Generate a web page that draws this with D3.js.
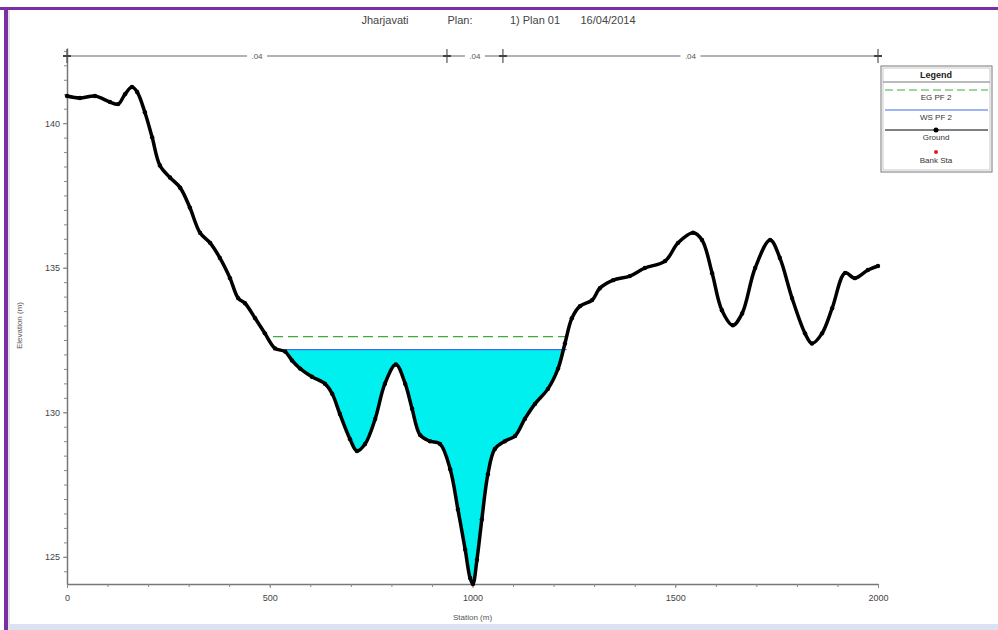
<!DOCTYPE html>
<html>
<head>
<meta charset="utf-8">
<script src="https://cdn.jsdelivr.net/npm/d3@7"></script>
<style>
  body { margin: 0; background: #fff; }
  svg { display: block; font-family: "Liberation Sans", Arial, sans-serif; }
</style>
</head>
<body>
<div id="chart"></div>
<script>
// Ground profile (station m, elevation m)
const stations = [0, 32, 69, 106, 126, 143, 160, 173, 192, 210, 229, 254, 279, 303, 328, 353, 377, 402, 422, 439, 464, 488, 513, 538, 555, 575, 604, 636, 654, 673, 698, 715, 735, 760, 784, 811, 834, 851, 871, 895, 920, 945, 964, 982, 994, 1001, 1011, 1023, 1038, 1055, 1080, 1105, 1129, 1154, 1186, 1211, 1228, 1245, 1265, 1295, 1314, 1347, 1388, 1425, 1475, 1507, 1544, 1566, 1591, 1615, 1642, 1665, 1697, 1734, 1758, 1788, 1820, 1837, 1862, 1887, 1919, 1943, 1975, 2000];
const elevations = [140.94, 140.87, 140.94, 140.73, 140.66, 141.0, 141.25, 141.08, 140.38, 139.51, 138.54, 138.12, 137.77, 137.08, 136.21, 135.86, 135.34, 134.64, 133.95, 133.77, 133.25, 132.73, 132.21, 132.1, 131.79, 131.51, 131.23, 130.99, 130.64, 129.94, 129.07, 128.66, 128.9, 129.77, 130.99, 131.65, 130.99, 130.12, 129.21, 129.0, 128.9, 128.03, 126.64, 125.25, 124.27, 124.06, 124.9, 126.29, 127.86, 128.73, 129.0, 129.18, 129.77, 130.29, 130.81, 131.51, 132.38, 133.25, 133.67, 133.88, 134.29, 134.57, 134.71, 134.99, 135.23, 135.86, 136.21, 135.96, 134.81, 133.53, 133.01, 133.42, 134.99, 135.96, 135.34, 133.95, 132.73, 132.38, 132.73, 133.6, 134.82, 134.64, 134.92, 135.06];

const wsElev = 132.17;        // WS PF 2
const wsRange = [538, 1232];
const egElev = 132.62;        // EG PF 2
const egRange = [508, 1240];
const bankStations = [937, 1075];
const nValues = [".04", ".04", ".04"];
const xTicks = [0, 500, 1000, 1500, 2000];
const yTicks = [125, 130, 135, 140];
const titleParts = ["Jharjavati", "Plan:", "1) Plan 01", "16/04/2014"];
const legendItems = ["EG PF 2", "WS PF 2", "Ground", "Bank Sta"];

const W = 998, H = 630;
const mg = { left: 67, right: 120, top: 48, bottom: 46 };

const svg = d3.select('#chart').append('svg')
  .attr('width', W).attr('height', H);

// frame
svg.append('rect').attr('x', 0).attr('y', 7).attr('width', W).attr('height', 3).style('fill', '#7b2fa3');
svg.append('rect').attr('x', 4).attr('y', 7).attr('width', 4).attr('height', H - 7).style('fill', '#7b2fa3');
svg.append('rect').attr('x', 8).attr('y', 10).attr('width', 2).attr('height', H - 10).style('fill', '#e4e4e4');
svg.append('rect').attr('x', 10).attr('y', 624).attr('width', W - 10).attr('height', 6).style('fill', '#dde2f3');

const x = d3.scaleLinear().domain([0, 2000]).range([mg.left, W - mg.right]);
const y = d3.scaleLinear().domain([124.06, 142.6]).range([H - mg.bottom, mg.top]);

const ground = stations.map((s, i) => ({ s: s, e: elevations[i] }));

// title
const titleX = [385, 460, 535, 608];
svg.selectAll('.title').data(titleParts).enter().append('text')
  .attr('x', (d, i) => titleX[i]).attr('y', 24)
  .style('text-anchor', 'middle').style('font-size', '11px').style('fill', '#444')
  .text(d => d);

// axes
const xAxis = svg.append('g').attr('transform', `translate(0,${y.range()[0]})`)
  .call(d3.axisBottom(x).tickValues(xTicks).tickSize(4).tickSizeOuter(0).tickFormat(d3.format('d')));
svg.append('g').attr('transform', `translate(0,${y.range()[0]})`)
  .call(d3.axisBottom(x).tickValues(d3.range(0, 2001, 100)).tickSize(3).tickFormat(''))
  .select('.domain').remove();
const yAxis = svg.append('g').attr('transform', `translate(${mg.left},0)`)
  .call(d3.axisLeft(y).tickValues(yTicks).tickSize(4).tickSizeOuter(0).tickFormat(d3.format('d')));
svg.append('g').attr('transform', `translate(${mg.left},0)`)
  .call(d3.axisLeft(y).tickValues(d3.range(124.5, 142.6, 0.5)).tickSize(3).tickFormat(''))
  .select('.domain').remove();

svg.selectAll('.domain').style('stroke', '#777').style('stroke-width', 1.5);
svg.selectAll('.tick line').style('stroke', '#888');
svg.selectAll('.tick text').style('font-size', '9px').style('fill', '#444').style('font-family', 'Liberation Sans, Arial, sans-serif');
xAxis.selectAll('.tick text').attr('dy', '1.1em');

svg.append('text').attr('x', x(1000)).attr('y', 620)
  .style('text-anchor', 'middle').style('font-size', '8px').style('fill', '#555')
  .text('Station (m)');
svg.append('text').attr('transform', `translate(22,${y(133)}) rotate(-90)`)
  .style('text-anchor', 'middle').style('font-size', '8px').style('fill', '#555')
  .text('Elevation (m)');

// Manning's n bar along the top
const nY = 56;
const nBreaks = [0].concat(bankStations, [2000]);
svg.append('line').attr('x1', x(0)).attr('x2', x(2000)).attr('y1', nY).attr('y2', nY)
  .style('stroke', '#999').style('stroke-width', 1.5);
svg.selectAll('.nTick').data(nBreaks).enter().append('line')
  .attr('x1', d => x(d)).attr('x2', d => x(d)).attr('y1', nY - 7).attr('y2', nY + 7)
  .style('stroke', '#555').style('stroke-width', 1.2);
svg.selectAll('.nArrow').data(nBreaks).enter().append('line')
  .attr('x1', d => x(d) - 4).attr('x2', d => x(d) + 4).attr('y1', nY).attr('y2', nY)
  .style('stroke', '#444').style('stroke-width', 2);
const nMid = nValues.map((v, i) => (nBreaks[i] + nBreaks[i + 1]) / 2);
svg.selectAll('.nBg').data(nMid).enter().append('rect')
  .attr('x', d => x(d) - 10).attr('y', nY - 5).attr('width', 20).attr('height', 10)
  .style('fill', '#fff');
svg.selectAll('.nLab').data(nValues).enter().append('text')
  .attr('x', (d, i) => x(nMid[i])).attr('y', nY + 3)
  .style('text-anchor', 'middle').style('font-size', '8px').style('fill', '#555')
  .text(d => d);

// water fill between WS and ground
const curve = d3.curveCatmullRom.alpha(0.5);
svg.append('clipPath').attr('id', 'belowWs').append('rect')
  .attr('x', x(wsRange[0])).attr('y', y(wsElev))
  .attr('width', x(wsRange[1]) - x(wsRange[0])).attr('height', y.range()[0] - y(wsElev));
svg.append('path').datum(ground)
  .attr('clip-path', 'url(#belowWs)')
  .attr('d', d3.area().curve(curve).x(d => x(d.s)).y0(y(wsElev)).y1(d => y(d.e)))
  .style('fill', '#00f0f0');

// WS line
svg.append('line').attr('x1', x(wsRange[0])).attr('x2', x(wsRange[1]))
  .attr('y1', y(wsElev)).attr('y2', y(wsElev))
  .style('stroke', '#3c6cf0').style('stroke-width', 1.2);

// EG line
svg.append('line').attr('x1', x(egRange[0])).attr('x2', x(egRange[1]))
  .attr('y1', y(egElev)).attr('y2', y(egElev))
  .style('stroke', '#3faa3f').style('stroke-width', 1.2).style('stroke-dasharray', '10,5');

// ground line + points
svg.append('path').datum(ground)
  .attr('d', d3.line().curve(curve).x(d => x(d.s)).y(d => y(d.e)))
  .style('fill', 'none').style('stroke', '#000').style('stroke-width', 3.5);
svg.selectAll('.gPt').data(ground).enter().append('circle')
  .attr('cx', d => x(d.s)).attr('cy', d => y(d.e)).attr('r', 2.2)
  .style('fill', '#000');

// legend
const lg = svg.append('g').attr('transform', 'translate(881,66)');
lg.append('rect').attr('width', 111).attr('height', 106)
  .style('fill', '#fff').style('stroke', '#777').style('stroke-width', 1);
lg.append('rect').attr('x', 2).attr('y', 2).attr('width', 107).attr('height', 102)
  .style('fill', 'none').style('stroke', '#bbb').style('stroke-width', 0.8);
lg.append('text').attr('x', 55).attr('y', 12).style('text-anchor', 'middle')
  .style('font-size', '9px').style('font-weight', 'bold').style('fill', '#222').text('Legend');
lg.append('line').attr('x1', 2).attr('x2', 109).attr('y1', 16).attr('y2', 16).style('stroke', '#777');

const legRowY = [24, 44, 64, 86];
lg.append('line').attr('x1', 4).attr('x2', 107).attr('y1', legRowY[0]).attr('y2', legRowY[0])
  .style('stroke', '#3faa3f').style('stroke-dasharray', '8,4');
lg.append('line').attr('x1', 4).attr('x2', 107).attr('y1', legRowY[1]).attr('y2', legRowY[1])
  .style('stroke', '#3c6cf0').style('stroke-width', 1.2);
lg.append('line').attr('x1', 4).attr('x2', 107).attr('y1', legRowY[2]).attr('y2', legRowY[2])
  .style('stroke', '#000').style('stroke-width', 1);
lg.append('circle').attr('cx', 55).attr('cy', legRowY[2]).attr('r', 2.5).style('fill', '#000');
lg.append('circle').attr('cx', 55).attr('cy', legRowY[3]).attr('r', 2).style('fill', '#e02020');
lg.selectAll('.legTxt').data(legendItems).enter().append('text')
  .attr('x', 55).attr('y', (d, i) => legRowY[i] + (i === 3 ? 11 : 10))
  .style('text-anchor', 'middle').style('font-size', '8px').style('fill', '#333')
  .text(d => d);
</script>
</body>
</html>
